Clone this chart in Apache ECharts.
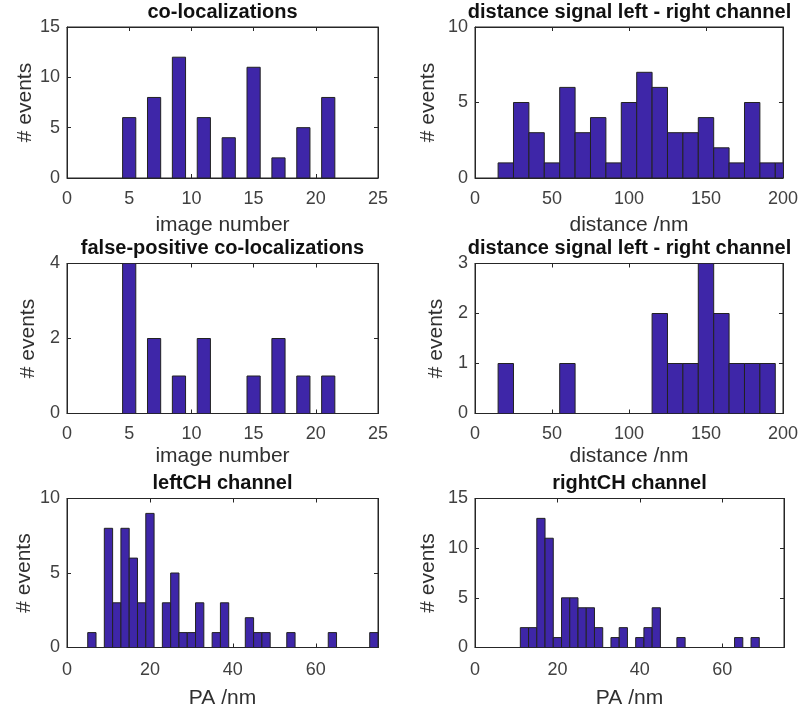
<!DOCTYPE html>
<html>
<head>
<meta charset="utf-8">
<script src="https://cdn.jsdelivr.net/npm/echarts@6/dist/echarts.min.js"></script>
<style>
  html, body { margin: 0; padding: 0; background: #fff; }
  #chart { width: 801px; height: 715px; }
</style>
</head>
<body>
<div id="chart"></div>
<script>
// Histogram counts per bin (bin centres and event counts)
const colocImages = [5, 7, 9, 11, 13, 15, 17, 19, 21];
const colocCounts = [6, 8, 12, 6, 4, 11, 2, 5, 8];

const falsePosImages = [5, 7, 9, 11, 15, 17, 19, 21];
const falsePosCounts = [4, 2, 1, 2, 1, 2, 1, 1];

const distCenters = [20, 30, 40, 50, 60, 70, 80, 90, 100, 110, 120, 130, 140, 150, 160, 170, 180, 190, 200];
const distCounts  = [1, 5, 3, 1, 6, 3, 4, 1, 5, 7, 6, 3, 3, 4, 2, 1, 5, 1, 1];

const distFPCenters = [20, 60, 120, 130, 140, 150, 160, 170, 180, 190];
const distFPCounts  = [1, 1, 2, 1, 1, 3, 2, 1, 1, 1];

const leftCenters = [6, 10, 12, 14, 16, 18, 20, 24, 26, 28, 30, 32, 36, 38, 44, 46, 48, 54, 64, 74];
const leftCounts  = [1, 8, 3, 8, 6, 3, 9, 3, 5, 1, 1, 3, 1, 3, 2, 1, 1, 1, 1, 1];

const rightCenters = [12, 14, 16, 18, 20, 22, 24, 26, 28, 30, 34, 36, 40, 42, 44, 50, 64, 68];
const rightCounts  = [2, 2, 13, 11, 1, 5, 5, 4, 4, 2, 1, 2, 1, 2, 4, 1, 1, 1];

// Axis ranges: [min, max, interval]
const colocX = [0, 25, 5];
const colocY = [0, 15, 5];
const falsePosY = [0, 4, 2];
const distX = [0, 200, 50];
const distY = [0, 10, 5];
const distFPY = [0, 3, 1];
const paX = [0, 75, 20];
const leftY = [0, 10, 5];
const rightY = [0, 15, 5];

const titles = [
  'co-localizations',
  'distance signal left - right channel',
  'false-positive co-localizations',
  'distance signal left - right channel',
  'leftCH channel',
  'rightCH channel'
];
const xNames = ['image number', 'distance /nm', 'image number', 'distance /nm', 'PA /nm', 'PA /nm'];
const yName = '# events';

const FONT = '"Liberation Sans", Arial, Helvetica, sans-serif';
const AXIS_COLOR = '#262626';
const BAR_FILL = '#3E26A8';

// Panel layout (pixels)
const panels = [
  { left: 67,  top: 27,    width: 311, height: 151, bw: 1.06, x: colocX, y: colocY, cx: colocImages, cy: colocCounts, yGap: 30, xGap: 37, lm: 12 },
  { left: 475, top: 27,    width: 309, height: 151, bw: 10,   x: distX,  y: distY,  cx: distCenters, cy: distCounts, yGap: 36, xGap: 37, lm: 12 },
  { left: 67,  top: 263.5, width: 311, height: 150, bw: 1.06, x: colocX, y: falsePosY, cx: falsePosImages, cy: falsePosCounts, yGap: 28, xGap: 32, lm: 12 },
  { left: 475, top: 263.5, width: 309, height: 150, bw: 10,   x: distX,  y: distFPY, cx: distFPCenters, cy: distFPCounts, yGap: 28, xGap: 32, lm: 12 },
  { left: 67,  top: 498.5, width: 311, height: 149, bw: 2,    x: paX,    y: leftY, cx: leftCenters, cy: leftCounts, yGap: 32, xGap: 40, lm: 14 },
  { left: 475, top: 498.5, width: 309, height: 149, bw: 2,    x: paX,    y: rightY, cx: rightCenters, cy: rightCounts, yGap: 36, xGap: 40, lm: 14 }
];

const grid = [], xAxis = [], yAxis = [], series = [], graphic = [];

panels.forEach((p, i) => {
  grid.push({
    left: p.left, top: p.top, width: p.width, height: p.height,
    show: true, borderColor: AXIS_COLOR, borderWidth: 1, backgroundColor: '#fff'
  });
  const tick = { show: true, inside: true, length: 4, lineStyle: { color: AXIS_COLOR, width: 1 } };
  const line = { show: true, onZero: false, lineStyle: { color: AXIS_COLOR, width: 1 } };
  // the max label is drawn only when the range ends on a tick
  const endsOnTick = (p.x[1] - p.x[0]) % p.x[2] === 0;
  // bottom axis with labels
  xAxis.push({
    type: 'value', gridIndex: i, position: 'bottom',
    min: p.x[0], max: p.x[1], interval: p.x[2],
    axisLine: line, axisTick: tick, splitLine: { show: false },
    axisLabel: { color: '#404040', fontSize: 18, fontFamily: FONT, margin: p.lm, showMaxLabel: endsOnTick },
    name: xNames[i], nameLocation: 'middle', nameGap: p.xGap,
    nameTextStyle: { color: '#303030', fontSize: 21, fontFamily: FONT }
  });
  // top axis: ticks only
  xAxis.push({
    type: 'value', gridIndex: i, position: 'top',
    min: p.x[0], max: p.x[1], interval: p.x[2],
    axisLine: line, axisTick: tick, splitLine: { show: false }, axisLabel: { show: false }
  });
  yAxis.push({
    type: 'value', gridIndex: i, position: 'left',
    min: p.y[0], max: p.y[1], interval: p.y[2],
    axisLine: line, axisTick: tick, splitLine: { show: false },
    axisLabel: { color: '#404040', fontSize: 18, fontFamily: FONT, margin: 7 },
    name: yName, nameLocation: 'middle', nameGap: p.yGap, nameRotate: 90,
    nameTextStyle: { color: '#303030', fontSize: 21, fontFamily: FONT }
  });
  yAxis.push({
    type: 'value', gridIndex: i, position: 'right',
    min: p.y[0], max: p.y[1], interval: p.y[2],
    axisLine: line, axisTick: tick, splitLine: { show: false }, axisLabel: { show: false }
  });

  const bw = p.bw;
  series.push({
    type: 'custom',
    xAxisIndex: i * 2, yAxisIndex: i * 2,
    clip: true,
    data: p.cx.map((c, k) => [c, p.cy[k]]),
    renderItem: function (params, api) {
      const c = api.value(0), v = api.value(1);
      const a = api.coord([c - bw / 2, v]);
      const b = api.coord([c + bw / 2, 0]);
      return {
        type: 'rect',
        shape: { x: a[0], y: a[1], width: b[0] - a[0], height: b[1] - a[1] },
        style: { fill: BAR_FILL, stroke: '#222', lineWidth: 1 }
      };
    },
    z: 1
  });

  graphic.push({
    type: 'text',
    x: p.left + p.width / 2,
    y: p.top - 25,
    style: {
      text: titles[i], fill: '#111',
      font: 'bold 20px ' + FONT,
      align: 'center', verticalAlign: 'top'
    },
    z: 10
  });
});

const chart = echarts.init(document.getElementById('chart'), null, { renderer: 'canvas' });
chart.setOption({
  animation: false,
  backgroundColor: '#fff',
  grid, xAxis, yAxis, series, graphic
});
</script>
</body>
</html>
